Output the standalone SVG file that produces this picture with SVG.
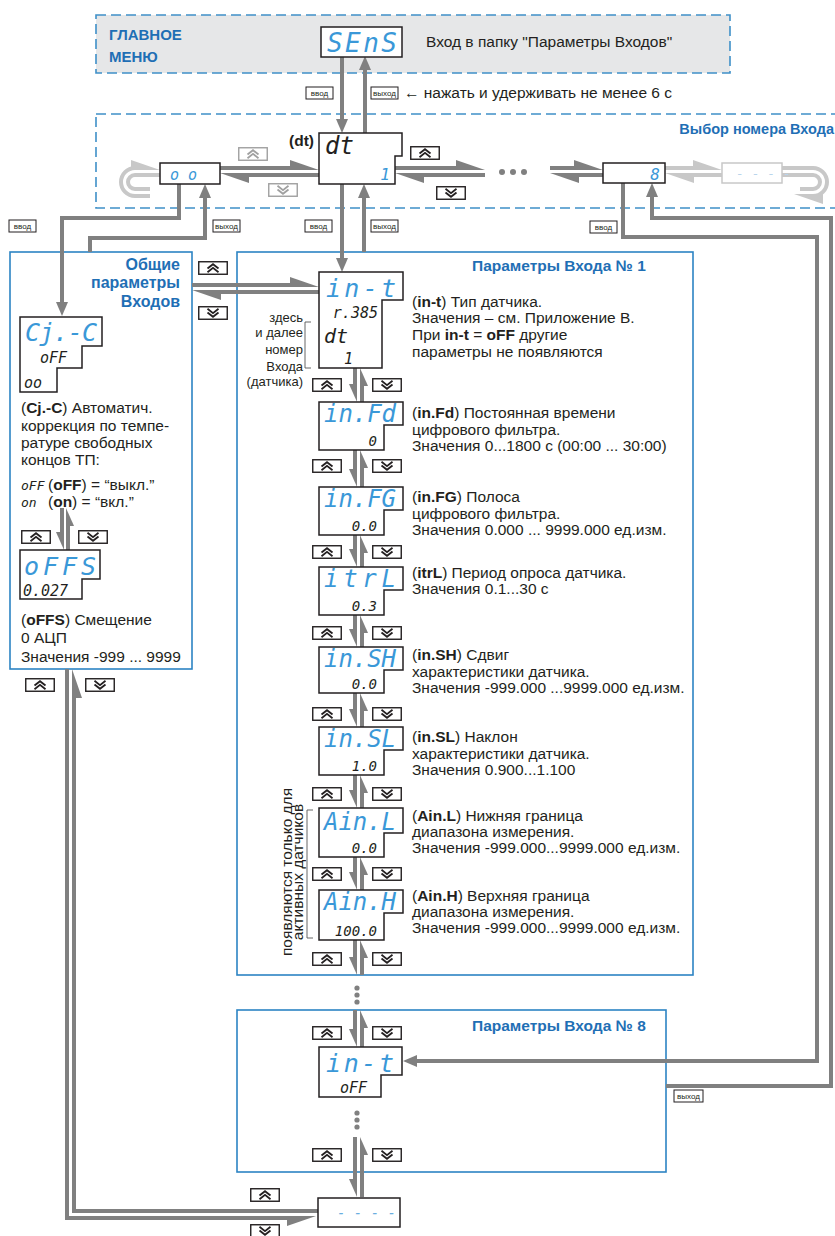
<svg xmlns="http://www.w3.org/2000/svg" width="835" height="1236" viewBox="0 0 835 1236">
<defs>
<style>
.tx{font-family:"Liberation Sans",Arial,sans-serif;font-size:15.5px;fill:#231f20}
.sm{font-size:13px}
.b{font-weight:bold}
.ti{font-family:"Liberation Sans",Arial,sans-serif;font-weight:bold;fill:#1f6fb5}
.sg{font-family:"DejaVu Sans Mono","Liberation Mono",monospace;font-style:italic;fill:#3a98d8}
.sv{font-family:"DejaVu Sans Mono","Liberation Mono",monospace;font-style:italic;fill:#231f20}
.disp{fill:#fff;stroke:#231f20;stroke-width:1.5}
.panel{fill:#fff;stroke:#2c84c4;stroke-width:1.6}
.dash{stroke:#3f90c8;stroke-width:1.6;stroke-dasharray:10 5}
.c{fill:none;stroke:#808080;stroke-width:4}
.cl{fill:none;stroke:#c8c8c8;stroke-width:4}
.br{fill:none;stroke:#555;stroke-width:0.9}
.lb rect{fill:#fff;stroke:#231f20;stroke-width:1}
.lb text{font-family:"Liberation Sans",Arial,sans-serif;font-size:8px;fill:#231f20;text-anchor:middle}
.bk{stroke:#231f20}
.lt{stroke:#a0a0a0}
.dot{fill:#808080}
</style>
<marker id="ah" markerUnits="userSpaceOnUse" markerWidth="14" markerHeight="12" refX="9" refY="6" orient="auto"><path d="M0,0 L14,6 L0,12 Z" fill="#808080"/></marker>
<marker id="hl" markerUnits="userSpaceOnUse" markerWidth="34" markerHeight="24" refX="19" refY="12" orient="auto"><path d="M31,14 L2,4 L2,14 Z" fill="#808080"/></marker>
<marker id="hr" markerUnits="userSpaceOnUse" markerWidth="34" markerHeight="24" refX="19" refY="12" orient="auto"><path d="M31,10 L2,20 L2,10 Z" fill="#808080"/></marker>
<marker id="hlL" markerUnits="userSpaceOnUse" markerWidth="34" markerHeight="24" refX="19" refY="12" orient="auto"><path d="M31,14 L2,4 L2,14 Z" fill="#c8c8c8"/></marker>
<marker id="vs" markerUnits="userSpaceOnUse" markerWidth="24" markerHeight="24" refX="12" refY="12" orient="auto"><path d="M21,10 L3,18 L3,10 Z" fill="#808080"/></marker>
<g id="bu"><rect x="0.75" y="0.75" width="28.5" height="12.5" fill="#fff" stroke-width="1.4"/><path d="M9.5,7.5 L15,3.2 L20.5,7.5 M9.5,11.2 L15,6.9 L20.5,11.2" fill="none" stroke-width="1.8"/></g>
<g id="bd"><rect x="0.75" y="0.75" width="28.5" height="12.5" fill="#fff" stroke-width="1.4"/><path d="M9.5,2.8 L15,7.1 L20.5,2.8 M9.5,6.5 L15,10.8 L20.5,6.5" fill="none" stroke-width="1.8"/></g>
</defs>
<rect width="835" height="1236" fill="#fff"/>

<g id="main-menu">
<rect x="96" y="15" width="634" height="58" fill="#e6e7e8" class="dash"/>
<text class="ti" x="109" y="40" font-size="15">ГЛАВНОЕ</text>
<text class="ti" x="109" y="62" font-size="15">МЕНЮ</text>
<text class="tx" x="426" y="47">Вход в папку "Параметры Входов"</text>
</g>
<g id="input-select">
<rect x="96" y="114" width="760" height="94" fill="none" class="dash"/>
<text class="ti" x="834" y="134" font-size="14.5" text-anchor="end">Выбор номера Входа</text>
</g>
<g id="common-panel">
<rect x="10" y="252" width="182" height="417" class="panel"/>
<text class="ti" font-size="16" text-anchor="end"><tspan x="180" y="270">Общие</tspan><tspan x="180" y="288">параметры</tspan><tspan x="180" y="307">Входов</tspan></text>
</g>
<g id="input1-panel">
<rect x="237" y="252" width="456" height="723" class="panel"/>
<text class="ti" x="472" y="271" font-size="15.5">Параметры Входа № 1</text>
<text class="tx sm" text-anchor="end"><tspan x="303" y="322">здесь</tspan><tspan x="303" y="337">и далее</tspan><tspan x="303" y="354">номер</tspan><tspan x="303" y="371">Входа</tspan><tspan x="303" y="386">(датчика)</tspan></text>
<path class="br" d="M311,322 H305 V368 H311"/>
<text class="tx" font-size="11.5" text-anchor="middle" transform="translate(292,872) rotate(-90)">появляются только для</text>
<text class="tx" font-size="11.5" text-anchor="middle" transform="translate(303,872) rotate(-90)">активных датчиков</text>
<path class="br" d="M313,810 H307 V938 H313"/>
</g>
<g id="input8-panel">
<rect x="237" y="1010" width="429" height="162" class="panel"/>
<text class="ti" x="472" y="1031" font-size="15.5">Параметры Входа № 8</text>
</g>

<g id="connectors">
<path class="c" d="M342,56 V128" marker-end="url(#ah)"/>
<path class="c" d="M365,133 V61" marker-end="url(#ah)"/>
<path class="c" d="M342,184 V267" marker-end="url(#ah)"/>
<path class="c" d="M364,252 V189" marker-end="url(#ah)"/>
<path class="c" d="M179,184 V218 H62 V311" marker-end="url(#ah)"/>
<path class="c" d="M90,252 V238 H205 V189" marker-end="url(#ah)"/>
<path class="c" d="M623,183 V237 H817 V1061 H408" marker-end="url(#ah)"/>
<path class="c" d="M666,1086 H831 V218 H652 V188" marker-end="url(#ah)"/>
<path class="c" d="M220,168 H307" marker-end="url(#hl)"/>
<path class="c" d="M319,175 H232" marker-end="url(#hl)"/>
<path class="c" d="M395,168 H473" marker-end="url(#hl)"/>
<path class="c" d="M485,175 H407" marker-end="url(#hl)"/>
<path class="c" d="M550,168 H591" marker-end="url(#hl)"/>
<path class="c" d="M603,175 H562" marker-end="url(#hl)"/>
<path class="cl" d="M665,168 H710" marker-end="url(#hlL)"/>
<path class="cl" d="M722,175 H677" marker-end="url(#hlL)"/>
<path class="cl" d="M782,168 H813 A14,14 0 0 1 813,196 H806" marker-end="url(#hlL)"/>
<path class="cl" d="M782,175 H813 A7,7 0 0 1 813,189 H800"/>
<path class="cl" d="M150,196 H135 A14,14 0 0 1 135,168 H148" marker-end="url(#hlL)"/>
<path class="cl" d="M150,189 H135 A7,7 0 0 1 135,175 H160"/>
<path class="c" d="M192,285 H307" marker-end="url(#hl)"/>
<path class="c" d="M319,292 H204" marker-end="url(#hl)"/>
<path class="c" d="M62,508 V541" marker-end="url(#vs)"/>
<path class="c" d="M68,550 V517" marker-end="url(#vs)"/>
<path class="c" d="M67,669 V1218 H304" marker-end="url(#hr)"/>
<path class="c" d="M318,1211 H74 V681" marker-end="url(#hr)"/>
<path class="c" d="M355,368 V393" marker-end="url(#vs)"/><path class="c" d="M362,402 V377" marker-end="url(#vs)"/>
<path class="c" d="M355,450 V478" marker-end="url(#vs)"/><path class="c" d="M362,487 V459" marker-end="url(#vs)"/>
<path class="c" d="M355,535 V558" marker-end="url(#vs)"/><path class="c" d="M362,567 V544" marker-end="url(#vs)"/>
<path class="c" d="M355,615 V638" marker-end="url(#vs)"/><path class="c" d="M362,647 V624" marker-end="url(#vs)"/>
<path class="c" d="M355,693 V718" marker-end="url(#vs)"/><path class="c" d="M362,727 V702" marker-end="url(#vs)"/>
<path class="c" d="M355,775 V799" marker-end="url(#vs)"/><path class="c" d="M362,808 V784" marker-end="url(#vs)"/>
<path class="c" d="M355,857 V881" marker-end="url(#vs)"/><path class="c" d="M362,890 V866" marker-end="url(#vs)"/>
<path class="c" d="M355,940 V966" marker-end="url(#vs)"/><path class="c" d="M362,975 V949" marker-end="url(#vs)"/>
<path class="c" d="M355,1010 V1038" marker-end="url(#vs)"/><path class="c" d="M362,1047 V1019" marker-end="url(#vs)"/>
<path class="c" d="M355,1137 V1188" marker-end="url(#vs)"/><path class="c" d="M362,1197 V1146" marker-end="url(#vs)"/>
<circle class="dot" cx="502" cy="172" r="3"/><circle class="dot" cx="513" cy="172" r="3"/><circle class="dot" cx="524" cy="172" r="3"/>
<circle class="dot" cx="357" cy="988" r="2.6"/><circle class="dot" cx="357" cy="995" r="2.6"/><circle class="dot" cx="357" cy="1002" r="2.6"/>
<circle class="dot" cx="357" cy="1113" r="2.6"/><circle class="dot" cx="357" cy="1120" r="2.6"/><circle class="dot" cx="357" cy="1127" r="2.6"/>
</g>

<g id="key-labels">
<g class="lb"><rect x="306" y="87" width="27" height="12"/><text x="319.5" y="96">ввод</text></g>
<g class="lb"><rect x="371" y="87" width="27" height="12"/><text x="384.5" y="96">выход</text></g>
<text class="tx" x="404" y="98" font-size="15">← нажать и удерживать не менее 6 с</text>
<g class="lb"><rect x="9" y="220" width="27" height="12"/><text x="22.5" y="229">ввод</text></g>
<g class="lb"><rect x="213" y="220" width="27" height="12"/><text x="226.5" y="229">выход</text></g>
<g class="lb"><rect x="305" y="220" width="27" height="12"/><text x="318.5" y="229">ввод</text></g>
<g class="lb"><rect x="371" y="220" width="27" height="12"/><text x="384.5" y="229">выход</text></g>
<g class="lb"><rect x="590" y="221" width="27" height="12"/><text x="603.5" y="230">ввод</text></g>
<g class="lb"><rect x="674" y="1090" width="29" height="12"/><text x="688.5" y="1099">выход</text></g>
</g>
<g id="buttons">
<use href="#bu" x="238" y="147" class="lt"/><use href="#bd" x="268" y="183" class="lt"/>
<use href="#bu" x="410" y="146" class="bk"/><use href="#bd" x="436" y="186" class="bk"/>
<use href="#bu" x="198" y="261" class="bk"/><use href="#bd" x="198" y="306" class="bk"/>
<use href="#bu" x="21" y="530" class="bk"/><use href="#bd" x="78" y="530" class="bk"/>
<use href="#bu" x="25" y="678" class="bk"/><use href="#bd" x="85" y="678" class="bk"/>
<use href="#bu" x="250" y="1188" class="bk"/><use href="#bd" x="250" y="1224" class="bk"/>
<use href="#bu" x="312" y="378" class="bk"/><use href="#bd" x="372" y="378" class="bk"/>
<use href="#bu" x="312" y="459" class="bk"/><use href="#bd" x="372" y="459" class="bk"/>
<use href="#bu" x="312" y="545" class="bk"/><use href="#bd" x="372" y="545" class="bk"/>
<use href="#bu" x="312" y="626" class="bk"/><use href="#bd" x="372" y="626" class="bk"/>
<use href="#bu" x="312" y="707" class="bk"/><use href="#bd" x="372" y="707" class="bk"/>
<use href="#bu" x="312" y="787" class="bk"/><use href="#bd" x="372" y="787" class="bk"/>
<use href="#bu" x="312" y="867" class="bk"/><use href="#bd" x="372" y="867" class="bk"/>
<use href="#bu" x="312" y="952" class="bk"/><use href="#bd" x="372" y="952" class="bk"/>
<use href="#bu" x="312" y="1026" class="bk"/><use href="#bd" x="372" y="1026" class="bk"/>
<use href="#bu" x="312" y="1148" class="bk"/><use href="#bd" x="372" y="1148" class="bk"/>
</g>

<g id="node-sens"><rect x="321" y="27" width="81" height="30" class="disp"/><text class="sg" x="327" y="52" font-size="26" textLength="70">SEnS</text></g>
<g id="node-dt"><path d="M319,133 H402 V156 H395 V184 H319 Z" class="disp"/><text class="sv" x="325" y="154" font-size="24">dt</text><text class="sg" x="390" y="180" font-size="16" text-anchor="end">1</text>
<text class="tx b" x="289" y="146" font-size="13">(dt)</text></g>
<g id="node-oo"><rect x="160" y="163" width="60" height="21" class="disp"/><text class="sg" x="170" y="180" font-size="15">o o</text></g>
<g id="node-8"><rect x="603" y="163" width="62" height="20" class="disp"/><text class="sg" x="660" y="180" font-size="16" text-anchor="end">8</text></g>
<g id="node-dashes-light"><rect x="722" y="163" width="60" height="20" fill="#fff" stroke="#c8c8c8" stroke-width="1.5"/><text class="sg" x="736" y="178" font-size="13" style="fill:#b9d5ec">- - - -</text></g>

<g id="node-cjc"><path d="M20,317 H102 V346 H82 V368 H57 V392 H20 Z" class="disp"/>
<text class="sg" x="25" y="341" font-size="25" textLength="72">Cj.-C</text>
<text class="sv" x="40" y="363" font-size="15">oFF</text>
<text class="sv" x="24" y="388" font-size="15">oo</text>
<text class="tx"><tspan x="21" y="413">(<tspan class="b">Cj.-C</tspan>) Автоматич.</tspan><tspan x="21" y="431">коррекция по темпе-</tspan><tspan x="21" y="448">ратуре свободных</tspan><tspan x="21" y="465">концов ТП:</tspan></text>
<text class="tx"><tspan class="sv" x="21" y="490" font-size="13">oFF</tspan><tspan x="48" y="490">(<tspan class="b">oFF</tspan>) = “выкл.”</tspan></text>
<text class="tx"><tspan class="sv" x="21" y="507" font-size="13">on</tspan><tspan x="48" y="507">(<tspan class="b">on</tspan>)  = “вкл.”</tspan></text>
</g>
<g id="node-offs"><path d="M20,550 H100 V579 H82 V599 H20 Z" class="disp"/>
<text class="sg" x="24" y="575" font-size="25" textLength="72">oFFS</text>
<text class="sv" x="23" y="596" font-size="15">0.027</text>
<text class="tx"><tspan x="21" y="625">(<tspan class="b">oFFS</tspan>) Смещение</tspan><tspan x="21" y="643">0 АЦП</tspan><tspan x="21" y="662">Значения -999 ... 9999</tspan></text>
</g>

<g id="node-in-t"><path d="M319,272 H403 V300 H382 V368 H319 Z" class="disp"/>
<text class="sg" x="326" y="297" font-size="25" textLength="70">in-t</text>
<text class="sv" x="378" y="318" font-size="15" text-anchor="end">r.385</text>
<text class="sv" x="324" y="343" font-size="20">dt</text>
<text class="sv" x="353" y="364" font-size="15" text-anchor="end">1</text>
<text class="tx"><tspan x="412" y="307">(<tspan class="b">in-t</tspan>) Тип датчика.</tspan><tspan x="412" y="323">Значения – см. Приложение В.</tspan><tspan x="412" y="340">При <tspan class="b">in-t</tspan> = <tspan class="b">oFF</tspan> другие</tspan><tspan x="412" y="357">параметры не появляются</tspan></text>
</g>
<g id="node-in-fd"><path d="M319,402 H403 V425 H384 V450 H319 Z" class="disp"/>
<text class="sg" x="324" y="422" font-size="24" textLength="72">in.Fd</text>
<text class="sv" x="377" y="446" font-size="14" text-anchor="end">0</text>
<text class="tx"><tspan x="412" y="418">(<tspan class="b">in.Fd</tspan>) Постоянная времени</tspan><tspan x="412" y="434.5">цифрового фильтра.</tspan><tspan x="412" y="451">Значения 0...1800 с (00:00 ... 30:00)</tspan></text>
</g>
<g id="node-in-fg"><path d="M319,487 H403 V510 H384 V535 H319 Z" class="disp"/>
<text class="sg" x="324" y="507" font-size="24" textLength="72">in.FG</text>
<text class="sv" x="377" y="531" font-size="14" text-anchor="end">0.0</text>
<text class="tx"><tspan x="412" y="502">(<tspan class="b">in.FG</tspan>) Полоса</tspan><tspan x="412" y="518.5">цифрового фильтра.</tspan><tspan x="412" y="535">Значения 0.000 ... 9999.000 ед.изм.</tspan></text>
</g>
<g id="node-itrl"><path d="M319,567 H403 V590 H384 V615 H319 Z" class="disp"/>
<text class="sg" x="324" y="587" font-size="24" textLength="72">itrL</text>
<text class="sv" x="377" y="611" font-size="14" text-anchor="end">0.3</text>
<text class="tx"><tspan x="412" y="578">(<tspan class="b">itrL</tspan>) Период опроса датчика.</tspan><tspan x="412" y="594">Значения 0.1...30 с</tspan></text>
</g>
<g id="node-in-sh"><path d="M319,647 H403 V670 H384 V693 H319 Z" class="disp"/>
<text class="sg" x="324" y="667" font-size="24" textLength="72">in.SH</text>
<text class="sv" x="377" y="689" font-size="14" text-anchor="end">0.0</text>
<text class="tx"><tspan x="412" y="660">(<tspan class="b">in.SH</tspan>) Сдвиг</tspan><tspan x="412" y="676.5">характеристики датчика.</tspan><tspan x="412" y="693">Значения -999.000 ...9999.000 ед.изм.</tspan></text>
</g>
<g id="node-in-sl"><path d="M319,727 H403 V750 H384 V775 H319 Z" class="disp"/>
<text class="sg" x="324" y="747" font-size="24" textLength="72">in.SL</text>
<text class="sv" x="377" y="771" font-size="14" text-anchor="end">1.0</text>
<text class="tx"><tspan x="412" y="742">(<tspan class="b">in.SL</tspan>) Наклон</tspan><tspan x="412" y="758.5">характеристики датчика.</tspan><tspan x="412" y="775">Значения 0.900...1.100</tspan></text>
</g>
<g id="node-ain-l"><path d="M319,808 H403 V833 H384 V857 H319 Z" class="disp"/>
<text class="sg" x="324" y="830" font-size="24" textLength="72">Ain.L</text>
<text class="sv" x="377" y="853" font-size="14" text-anchor="end">0.0</text>
<text class="tx"><tspan x="412" y="821">(<tspan class="b">Ain.L</tspan>) Нижняя граница</tspan><tspan x="412" y="837">диапазона измерения.</tspan><tspan x="412" y="853">Значения -999.000...9999.000 ед.изм.</tspan></text>
</g>
<g id="node-ain-h"><path d="M319,890 H403 V913 H384 V940 H319 Z" class="disp"/>
<text class="sg" x="324" y="910" font-size="24" textLength="72">Ain.H</text>
<text class="sv" x="377" y="936" font-size="14" text-anchor="end">100.0</text>
<text class="tx"><tspan x="412" y="901">(<tspan class="b">Ain.H</tspan>) Верхняя граница</tspan><tspan x="412" y="917">диапазона измерения.</tspan><tspan x="412" y="933">Значения -999.000...9999.000 ед.изм.</tspan></text>
</g>
<g id="node-in-t8"><path d="M319,1047 H402 V1075 H381 V1097 H319 Z" class="disp"/>
<text class="sg" x="326" y="1072" font-size="25" textLength="68">in-t</text>
<text class="sv" x="340" y="1093" font-size="15">oFF</text>
</g>
<g id="node-dashes"><rect x="318" y="1198" width="82" height="29" class="disp"/><text class="sg" x="337" y="1218" font-size="14" style="fill:#6aaee0">- - - -</text></g>
</svg>
